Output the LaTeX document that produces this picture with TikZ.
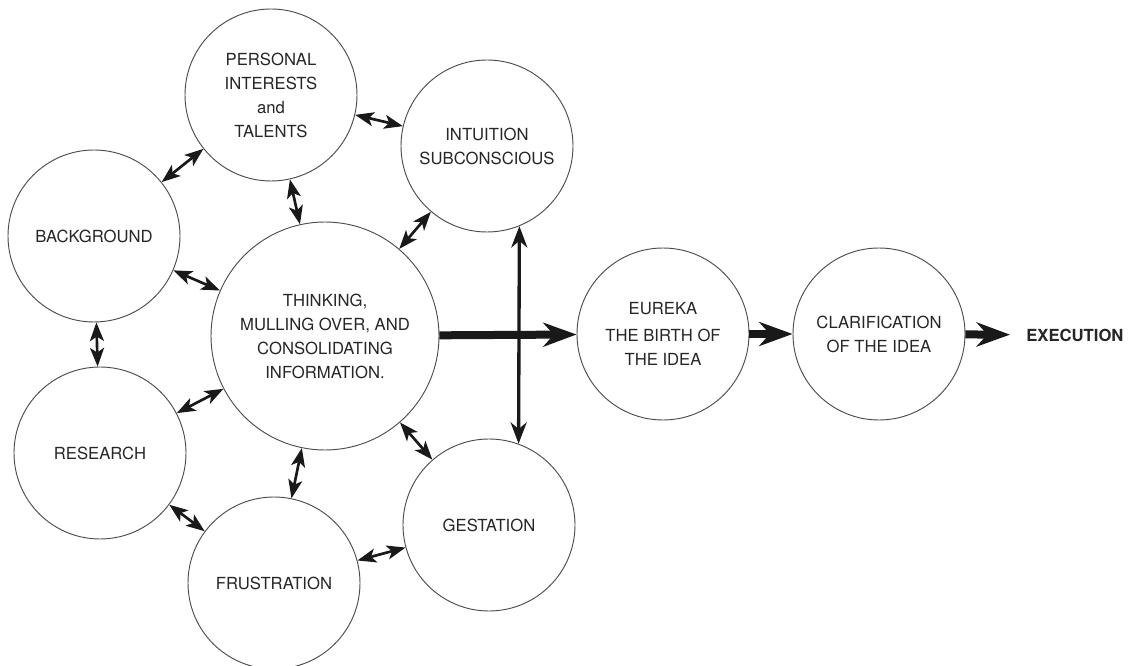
\documentclass[tikz,border=0pt]{standalone}
\usepackage{fontspec}
\setmainfont{TeX Gyre Heros}
\usetikzlibrary{arrows.meta}
\begin{document}
\begin{tikzpicture}[x=0.75pt,y=-0.75pt,
  bubble/.style={circle,draw=black!70,line width=0.7pt,minimum size=129pt,inner sep=0pt,align=center,
    text=black!85,font=\fontsize{12.5}{18}\selectfont},
  bigbubble/.style={bubble,minimum size=171pt},
  dbl/.style={line width=2pt,black!90,{Stealth[length=14pt,width=10.5pt,inset=3.5pt]}-{Stealth[length=14pt,width=10.5pt,inset=3.5pt]}},
  vert/.style={line width=2.5pt,black!90,{Stealth[length=16pt,width=12pt,inset=5pt]}-{Stealth[length=16pt,width=12pt,inset=5pt]}},
  big/.style={line width=6pt,black!90,-{Stealth[length=25pt,width=18pt,inset=8pt]}}
]
\useasboundingbox (0,0) rectangle (1129,666);

\node[bubble] (P) at (271,95) {PERSONAL\\INTERESTS\\and\\TALENTS};
\node[bubble] (I) at (487,146) {INTUITION\\SUBCONSCIOUS};
\node[bubble] (B) at (94,236) {BACKGROUND};
\node[bigbubble] (T) at (325,336) {THINKING,\\MULLING OVER, AND\\CONSOLIDATING\\INFORMATION.};
\node[bubble] (R) at (100,453) {RESEARCH};
\node[bubble] (F) at (274,583) {FRUSTRATION};
\node[bubble] (G) at (489,525) {GESTATION};
\node[bubble] (E) at (663,334) {EUREKA\\[2pt]THE BIRTH OF\\THE IDEA};
\node[bubble] (C) at (879,334) {CLARIFICATION\\OF THE IDEA};
\node[anchor=west,inner xsep=12pt,inner ysep=2pt,text=black!85,font=\fontsize{12.5}{14}\selectfont\bfseries] (X) at (1010,335) {EXECUTION};

\draw[dbl] (B) -- (P);
\draw[dbl] (P) -- (I);
\draw[dbl] (P) -- (T);
\draw[dbl] (I) -- (T);
\draw[dbl] (B) -- (T);
\draw[dbl] (B) -- (R);
\draw[dbl] (R) -- (T);
\draw[dbl] (T) -- (G);
\draw[dbl] (T) -- (F);
\draw[dbl] (R) -- (F);
\draw[dbl] (F) -- (G);

\draw[vert] (I.-68) -- (G.70);
\draw[big] (T) -- (E);
\draw[big] (E) -- (C);
\draw[big] (C) -- (X);
\end{tikzpicture}
\end{document}
